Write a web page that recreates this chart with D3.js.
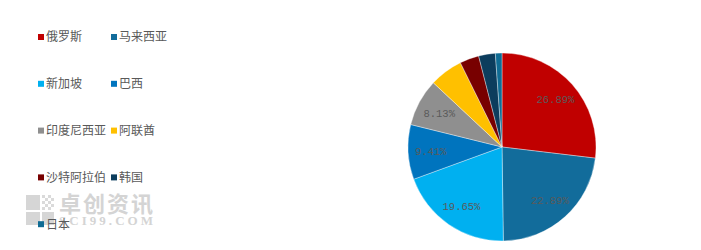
<!DOCTYPE html>
<html>
<head>
<meta charset="utf-8">
<script src="https://cdn.jsdelivr.net/npm/d3@7"></script>
<style>
  body { margin: 0; background: #fff; }
  svg { display: block; }
</style>
</head>
<body>
<div id="plot"></div>
<script>
// country shares (%)
const countries = ['俄罗斯', '马来西亚', '新加坡', '巴西', '印度尼西亚', '阿联酋', '沙特阿拉伯', '韩国', '日本'];
const shares = [26.89, 22.89, 19.65, 9.41, 8.13, 5.73, 3.30, 2.87, 1.13];
const colors = ['#C00000', '#126C9B', '#00B0F0', '#0074BE', '#8F8F8F', '#FFC000', '#780000', '#0C3D5D', '#0F6C94'];
// only the big slices carry a label
const labelled = ['俄罗斯', '马来西亚', '新加坡', '巴西', '印度尼西亚'];

const W = 701, H = 250;
const svg = d3.select('#plot').append('svg').attr('width', W).attr('height', H);

const data = countries.map((c, i) => ({ name: c, value: shares[i], color: colors[i] }));

// watermark (logo + name), sits behind the legend
const wm = svg.append('g').attr('class', 'watermark');
wm.append('rect').attr('x', 26).attr('y', 195).attr('width', 14).attr('height', 15).attr('fill', '#d6d6d6');
wm.append('rect').attr('x', 26).attr('y', 212).attr('width', 14).attr('height', 13).attr('fill', '#d6d6d6');
wm.append('rect').attr('x', 42).attr('y', 212).attr('width', 12).attr('height', 13).attr('fill', '#d6d6d6');
[[42, 195], [48, 195], [45, 198], [51, 198], [42, 201], [48, 201], [45, 204], [51, 204], [42, 207], [48, 207]].forEach(([x, y]) => {
  wm.append('rect').attr('x', x).attr('y', y).attr('width', 3).attr('height', 3).attr('fill', '#dadada');
});
wm.append('text')
  .attr('x', 59).attr('y', 212)
  .attr('textLength', 94)
  .style('font-family', '"Noto Sans CJK SC", sans-serif')
  .style('font-size', '22px')
  .style('font-weight', 'bold')
  .style('fill', '#d4d4d4')
  .text('卓创资讯');
wm.append('text')
  .attr('x', 59).attr('y', 225)
  .attr('textLength', 94)
  .style('font-family', '"Liberation Serif", serif')
  .style('font-size', '13px')
  .style('font-weight', 'bold')
  .style('fill', '#d4d4d4')
  .text('SCI99.COM');

// legend: two columns, row-major
const legend = svg.append('g').attr('class', 'legend');
const colX = [38, 111];
const rowY = d3.range(5).map((i) => 37 + i * 46.8);
const items = legend.selectAll('g.item')
  .data(data)
  .enter()
  .append('g')
  .attr('class', 'item')
  .attr('transform', (d, i) => `translate(${colX[i % 2]},${rowY[Math.floor(i / 2)]})`);

items.append('rect')
  .attr('x', 0).attr('y', -3)
  .attr('width', 6).attr('height', 6)
  .attr('fill', (d) => d.color);

items.append('text')
  .attr('x', 8)
  .attr('dy', '0.36em')
  .style('font-family', '"Noto Sans CJK SC", sans-serif')
  .style('font-size', '12px')
  .style('fill', '#595959')
  .text((d) => d.name);

// pie
const cx = 502, cy = 147, r = 94;
const pie = d3.pie().sort(null).value((d) => d.value);
const arcs = pie(data);
const arc = d3.arc().innerRadius(0).outerRadius(r);
const labelArc = d3.arc().innerRadius(r * 0.76).outerRadius(r * 0.76);

const g = svg.append('g').attr('transform', `translate(${cx},${cy})`);

g.selectAll('path.slice')
  .data(arcs)
  .enter()
  .append('path')
  .attr('class', 'slice')
  .attr('d', arc)
  .attr('fill', (d) => d.data.color)
  .attr('stroke', '#ffffff')
  .attr('stroke-width', 0.6)
  .attr('stroke-opacity', 0.6);

g.selectAll('text.pct')
  .data(arcs.filter((d) => labelled.includes(d.data.name)))
  .enter()
  .append('text')
  .attr('class', 'pct')
  .attr('transform', (d) => `translate(${labelArc.centroid(d)})`)
  .attr('text-anchor', 'middle')
  .attr('dy', '0.35em')
  .style('font-family', '"Liberation Mono", "DejaVu Sans Mono", monospace')
  .style('font-size', '10.5px')
  .style('fill', '#5a5a5a')
  .text((d) => d.data.value.toFixed(2) + '%');
</script>
</body>
</html>
